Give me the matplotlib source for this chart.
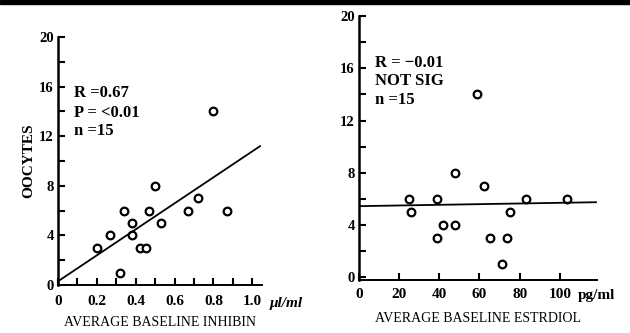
import matplotlib
matplotlib.use("Agg")
import matplotlib.pyplot as plt
from matplotlib.patches import Rectangle

plt.rcParams['font.family'] = ['Liberation Serif', 'DejaVu Serif']

# left panel: inhibin vs oocytes
inh_x = [0.20, 0.27, 0.32, 0.34, 0.38, 0.38, 0.42, 0.455, 0.47, 0.50, 0.53, 0.67, 0.72, 0.80, 0.87]
inh_y = [3, 4, 1, 6, 5, 4, 3, 3, 6, 8, 5, 6, 7, 14, 6]
inh_fit_x = [0.0, 1.04]
inh_fit_y = [0.3, 11.2]
inh_xticks = [0, 0.2, 0.4, 0.6, 0.8, 1.0]
inh_xlabels = ['0', '0.2', '0.4', '0.6', '0.8', '1.0']

# right panel: estradiol vs oocytes
est_x = [25, 26, 39, 39, 42, 48, 48, 59, 62, 65, 71, 73.5, 75, 83, 103.5]
est_y = [6, 5, 6, 3, 4, 4, 8, 14, 7, 3, 1, 3, 5, 6, 6]
est_fit_x = [0, 118]
est_fit_y = [5.45, 5.75]
est_xticks = [0, 20, 40, 60, 80, 100]

yticks = [0, 4, 8, 12, 16, 20]

fig = plt.figure(figsize=(6.3, 3.33), dpi=100)
fig.patches.append(Rectangle((0, 0.988), 1, 0.012, transform=fig.transFigure,
                             color='black', zorder=10))

ax1 = fig.add_axes([0.0921, 0.1441, 0.3238, 0.7447])
ax2 = fig.add_axes([0.5698, 0.1592, 0.3778, 0.7928])

for ax in (ax1, ax2):
    for s in ('top', 'right'):
        ax.spines[s].set_visible(False)
    ax.spines['left'].set_linewidth(1.8)
    ax.spines['bottom'].set_linewidth(1.4)
    ax.tick_params(direction='in', length=5, width=1.5, labelsize=10.5, pad=3)
    ax.tick_params(which='minor', direction='in', length=5, width=1.5)
    ax.set_yticks(yticks)
    ax.set_yticks(range(2, 20, 4), minor=True)
    for lab in ax.get_yticklabels():
        lab.set_fontweight('bold')

# left
ax1.plot(inh_x, inh_y, 'o', mfc='white', mec='black', ms=5.5, mew=1.6)
ax1.plot(inh_fit_x, inh_fit_y, color='black', lw=1.3)
ax1.set_xlim(0, 1.05)
ax1.set_ylim(0, 20)
ax1.set_xticks(inh_xticks)
ax1.set_xticklabels(inh_xlabels, fontweight='bold', fontsize=11)
ax1.set_xticks([0.1, 0.3, 0.5, 0.7, 0.9], minor=True)
ax1.tick_params(axis='x', pad=7)
ax1.set_ylabel('OOCYTES', fontsize=11, fontweight='bold', labelpad=3)
ax1.set_xlabel('AVERAGE BASELINE INHIBIN', fontsize=10, labelpad=6)
ax1.text(1.09, -1.0, '\u03bcl/ml', fontsize=11, fontstyle='italic',
         fontweight='bold', ha='left', va='top', clip_on=False)
ax1.text(0.08, 15.5, 'R =0.67', fontsize=12, fontweight='bold', va='center')
ax1.text(0.08, 13.9, 'P = <0.01', fontsize=12, fontweight='bold', va='center')
ax1.text(0.08, 12.4, 'n =15', fontsize=12, fontweight='bold', va='center')

# right
ax2.plot(est_x, est_y, 'o', mfc='white', mec='black', ms=5.5, mew=1.6)
ax2.plot(est_fit_x, est_fit_y, color='black', lw=1.3)
ax2.set_xlim(0, 118.5)
ax2.set_ylim(-0.2, 20)
ax2.set_xticks(est_xticks)
ax2.set_xticklabels([str(v) for v in est_xticks], fontweight='bold', fontsize=11)
ax2.tick_params(axis='x', pad=6)
ax2.set_xlabel('AVERAGE BASELINE ESTRDIOL', fontsize=10, labelpad=8)
ax2.text(109, -0.9, 'pg/ml', fontsize=11, fontweight='bold',
         ha='left', va='top', clip_on=False)
ax2.text(8, 16.4, 'R = \u22120.01', fontsize=12, fontweight='bold', va='center')
ax2.text(8, 15.0, 'NOT SIG', fontsize=12, fontweight='bold', va='center')
ax2.text(8, 13.6, 'n =15', fontsize=12, fontweight='bold', va='center')

fig.savefig('out.png', dpi=100)
